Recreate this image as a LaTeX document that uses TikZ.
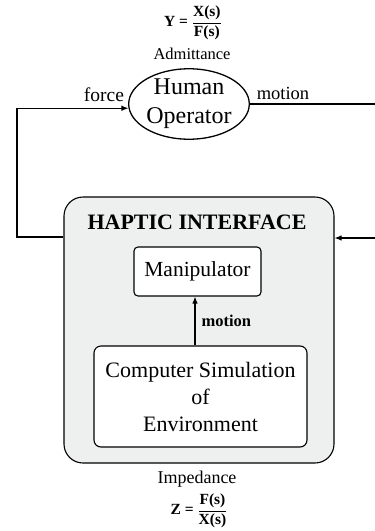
\documentclass[tikz,border=0pt]{standalone}
\usepackage{fontspec}
\setmainfont{Liberation Serif}
\usetikzlibrary{shapes.geometric,arrows.meta}
\definecolor{panelgrey}{HTML}{EEF0EF}

\newcommand{\fsz}[1]{\fontsize{#1}{#1}\selectfont}

\begin{document}
\begin{tikzpicture}[x=1pt,y=-1pt,
  line/.style={draw=black,line width=1.1pt},
  arr/.style={line,-{Latex[length=7pt,width=5.5pt]}},
  block/.style={draw=black,line width=1.1pt,fill=white,rounded corners=#1,inner sep=0pt},
  caption/.style={inner sep=0pt,font=\fsz{#1}},
  formula/.style={inner sep=0pt,font=\bfseries\fsz{15.5}}]
\useasboundingbox (0,0) rectangle (375,531);

% human operator
\node[ellipse,draw=black,line width=1.3pt,minimum width=96pt,minimum height=68pt,
      inner sep=0pt,align=center,font=\fontsize{24}{29}\selectfont] (op) at (189,104)
      {Human\\Operator};

% admittance
\node[formula] (yform) at (193,23) {Y = ${\displaystyle\frac{\mbox{X(s)}}{\mbox{F(s)}}}$};
\node[caption=16.5] (adm) at (192,54) {Admittance};

% haptic interface panel
\node[draw=black,line width=1.1pt,fill=panelgrey,rounded corners=19pt,
      minimum width=270pt,minimum height=266pt] (hi) at (199,330) {};
\node[inner sep=0pt,font=\bfseries\fsz{22}] (title) at (197,222) {HAPTIC INTERFACE};

\node[block=4pt,minimum width=127pt,minimum height=49pt,font=\fsz{21.5}]
      (manip) at (197.5,271.5) {Manipulator};
\node[block=7pt,minimum width=213pt,minimum height=101pt,align=center,
      font=\fontsize{22}{27}\selectfont] (comp) at (200.5,396.5)
      {Computer Simulation\\of\\Environment};

\draw[arr] ([xshift=-5.5pt]comp.north) -- ([xshift=-2.5pt]manip.south)
      node[midway,right=6pt,inner sep=0pt,font=\bfseries\fsz{16.5}] (minner) {motion};

% impedance
\node[caption=18] (imp) at (197,479) {Impedance};
\node[formula] (zform) at (199,511) {Z = ${\displaystyle\frac{\mbox{F(s)}}{\mbox{X(s)}}}$};

% outer loop
\coordinate (fl) at (17,237);
\coordinate (mout) at (375,103);
\coordinate (fin) at (375,238);

\draw[arr] (hi.west |- fl) -- (fl) |- (op.184);
\draw[line] (op.east) -- (op.east -| mout);
\draw[arr] (fin) -- (fin -| hi.east);

\node[caption=19.5] (force) at (104,95) {force};
\node[caption=18.5] (motion) at (283,93) {motion};
\end{tikzpicture}
\end{document}
